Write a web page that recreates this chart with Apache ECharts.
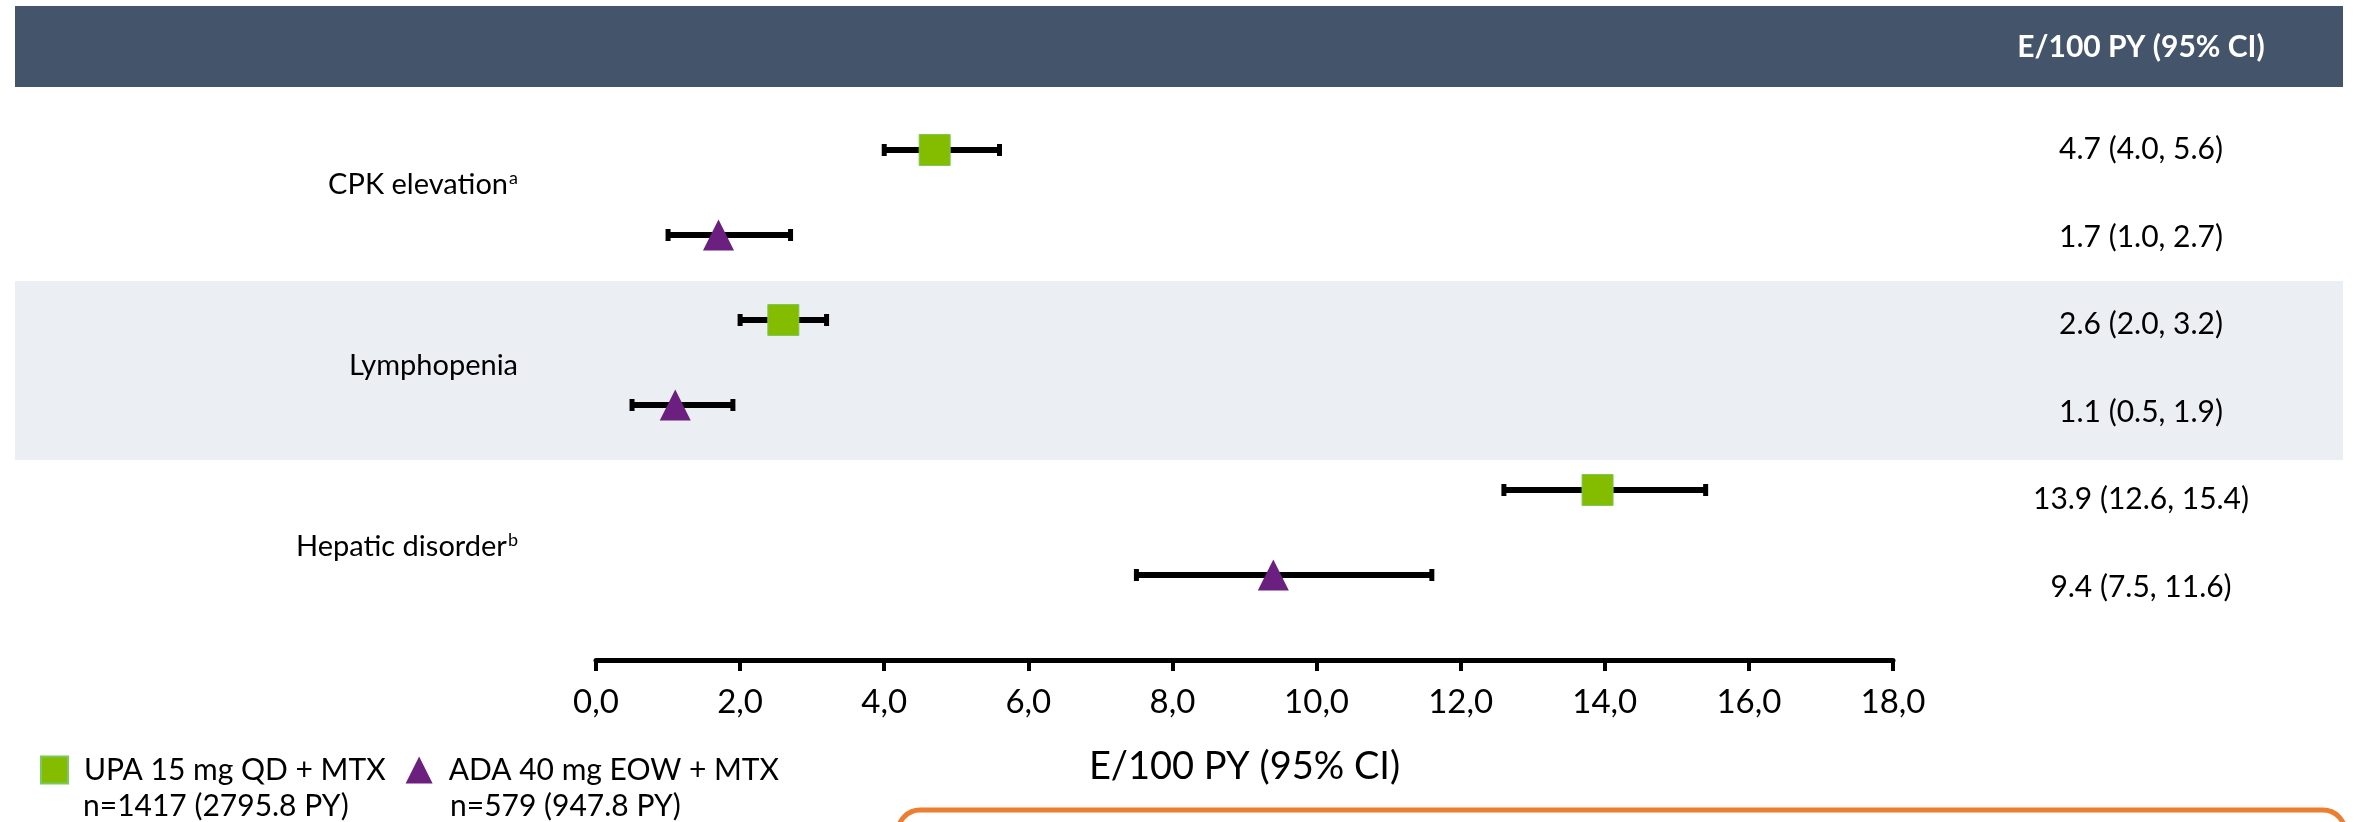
<!DOCTYPE html>
<html>
<head>
<meta charset="utf-8">
<script src="https://cdn.jsdelivr.net/npm/echarts@6/dist/echarts.min.js"></script>
<style>
  html, body { margin: 0; padding: 0; background: #fff; }
  #main { width: 2354px; height: 822px; }
</style>
</head>
<body>
<div id="main"></div>
<script>
// rows of the forest plot
var categories = ['CPK elevation', 'Lymphopenia', 'Hepatic disorder'];
var footnotes = ['a', '', 'b'];

// UPA 15 mg QD + MTX : rate and 95% CI
var upaEst = [4.7, 2.6, 13.9];
var upaLow = [4.0, 2.0, 12.6];
var upaHigh = [5.6, 3.2, 15.4];

// ADA 40 mg EOW + MTX : rate and 95% CI
var adaEst = [1.7, 1.1, 9.4];
var adaLow = [1.0, 0.5, 7.5];
var adaHigh = [2.7, 1.9, 11.6];

var seriesNames = ['UPA 15 mg QD + MTX', 'ADA 40 mg EOW + MTX'];
var seriesSub = ['n=1417 (2795.8 PY)', 'n=579 (947.8 PY)'];

var xMin = 0, xMax = 18, xStep = 2;
var axisTitle = 'E/100 PY (95% CI)';

var FONT = 'Lato';
var GREEN = '#84BC00';
var PURPLE = '#6B1F7E';

// slot 2i = UPA, slot 2i+1 = ADA
var upaPts = [], adaPts = [], bars = [], valueLabels = [];
categories.forEach(function (c, i) {
  upaPts.push([upaEst[i], 2 * i]);
  adaPts.push([adaEst[i], 2 * i + 1]);
  bars.push([upaLow[i], upaHigh[i], 2 * i]);
  bars.push([adaLow[i], adaHigh[i], 2 * i + 1]);
  valueLabels.push(upaEst[i].toFixed(1) + ' (' + upaLow[i].toFixed(1) + ', ' + upaHigh[i].toFixed(1) + ')');
  valueLabels.push(adaEst[i].toFixed(1) + ' (' + adaLow[i].toFixed(1) + ', ' + adaHigh[i].toFixed(1) + ')');
});
var rowLabels = categories.map(function (c, i) {
  return footnotes[i] ? c + '{sup|' + footnotes[i] + '}' : c;
});

var chart = echarts.init(document.getElementById('main'));

chart.setOption({
  backgroundColor: '#fff',
  textStyle: { fontFamily: FONT },
  animation: false,
  graphic: [
    { type: 'rect', z: -5, shape: { x: 15, y: 6, width: 2328, height: 81 }, style: { fill: '#44546A' } },
    { type: 'rect', z: -5, shape: { x: 15, y: 281, width: 2328, height: 179 }, style: { fill: '#EBEEF3' } },
    { type: 'text', z: 5, x: 2141, y: 47, style: { text: axisTitle, fill: '#fff', font: 'bold 30px Lato', textAlign: 'center', textVerticalAlign: 'middle' } },
    { type: 'text', z: 5, x: 83, y: 806, style: { text: seriesSub[0], fill: '#000', font: '30px Lato', textAlign: 'left', textVerticalAlign: 'middle' } },
    { type: 'text', z: 5, x: 450, y: 806, style: { text: seriesSub[1], fill: '#000', font: '30px Lato', textAlign: 'left', textVerticalAlign: 'middle' } },
    { type: 'rect', z: 5, shape: { x: 898, y: 810, width: 1447, height: 200, r: 22 }, style: { fill: 'none', stroke: '#ED7D31', lineWidth: 5 } }
  ],
  legend: {
    left: 40,
    top: 755,
    padding: 0,
    itemWidth: 27,
    itemHeight: 27,
    itemGap: 20,
    itemTextGap: 5,
    data: [
      { name: seriesNames[0], icon: 'rect' },
      { name: seriesNames[1], icon: 'triangle' }
    ],
    textStyle: { fontFamily: FONT, fontSize: 30, color: '#000', padding: [0, 0, 0, 11] }
  },
  grid: [
    { left: 596, right: 461, top: 107.5, bottom: 162 },
    { left: 530, width: 10, top: 94.5, height: 543 },
    { left: 2250, width: 10, top: 106, height: 525 }
  ],
  xAxis: [
    {
      gridIndex: 0, type: 'value', min: xMin, max: xMax, interval: xStep,
      splitLine: { show: false },
      axisLine: { show: true, onZero: false, lineStyle: { color: '#000', width: 5 } },
      axisTick: { show: true, length: 11, lineStyle: { color: '#000', width: 4 } },
      axisLabel: {
        margin: 26, fontSize: 33, color: '#000', fontFamily: FONT,
        formatter: function (v) { return v.toFixed(1).replace('.', ','); }
      },
      name: axisTitle, nameLocation: 'middle', nameGap: 88,
      nameTextStyle: { fontSize: 38, color: '#000', fontFamily: FONT }
    },
    { gridIndex: 1, type: 'value', show: false },
    { gridIndex: 2, type: 'value', show: false }
  ],
  yAxis: [
    { gridIndex: 0, type: 'value', inverse: true, min: -0.5, max: 6, show: false },
    {
      gridIndex: 1, type: 'category', inverse: true, data: rowLabels,
      axisLine: { show: false }, axisTick: { show: false },
      axisLabel: {
        margin: 12, fontSize: 29, color: '#000', fontFamily: FONT,
        rich: { sup: { fontSize: 18, color: '#000', fontFamily: FONT, verticalAlign: 'top', padding: [0, 0, 14, 1] } }
      }
    },
    {
      gridIndex: 2, type: 'category', inverse: true, data: valueLabels,
      axisLine: { show: false }, axisTick: { show: false },
      axisLabel: { margin: 109, align: 'center', fontSize: 30, color: '#000', fontFamily: FONT }
    }
  ],
  series: [
    {
      type: 'custom',
      name: 'ci',
      xAxisIndex: 0, yAxisIndex: 0,
      z: 3,
      encode: { x: [0, 1], y: 2 },
      data: bars,
      renderItem: function (params, api) {
        var a = api.coord([api.value(0), api.value(2)]);
        var b = api.coord([api.value(1), api.value(2)]);
        var st = { stroke: '#000', lineWidth: 6 };
        var cap = { stroke: '#000', lineWidth: 5 };
        return {
          type: 'group',
          children: [
            { type: 'line', shape: { x1: a[0], y1: a[1], x2: b[0], y2: b[1] }, style: st },
            { type: 'line', shape: { x1: a[0], y1: a[1] - 6, x2: a[0], y2: a[1] + 6 }, style: cap },
            { type: 'line', shape: { x1: b[0], y1: b[1] - 6, x2: b[0], y2: b[1] + 6 }, style: cap }
          ]
        };
      }
    },
    {
      type: 'scatter',
      name: seriesNames[0],
      xAxisIndex: 0, yAxisIndex: 0,
      z: 5,
      symbol: 'rect',
      symbolSize: 31,
      itemStyle: { color: GREEN, borderColor: '#7CC85A', borderWidth: 1, opacity: 1 },
      data: upaPts
    },
    {
      type: 'scatter',
      name: seriesNames[1],
      xAxisIndex: 0, yAxisIndex: 0,
      z: 5,
      symbol: 'triangle',
      symbolSize: [31, 31],
      itemStyle: { color: PURPLE, opacity: 1 },
      data: adaPts
    }
  ]
});
</script>
</body>
</html>
